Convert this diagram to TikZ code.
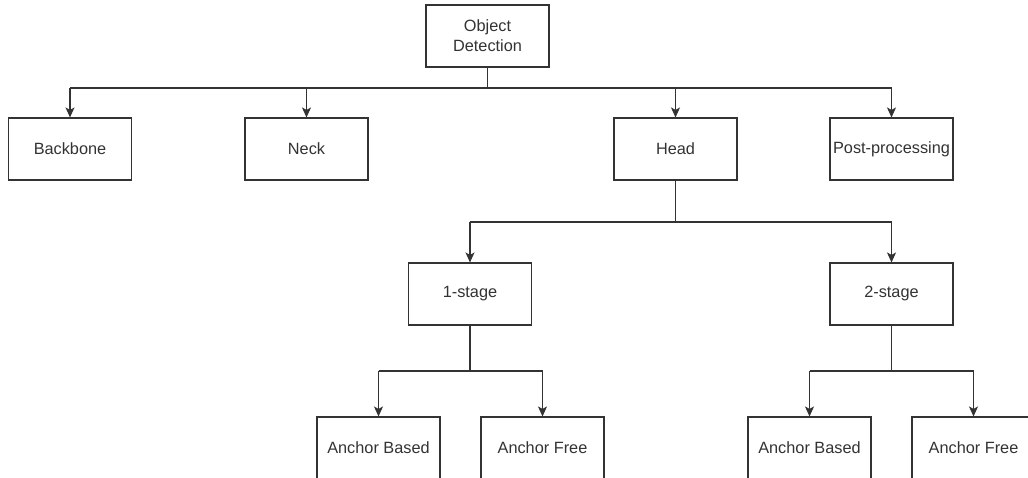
\documentclass[tikz,border=0pt]{standalone}
\usepackage{fontspec}
\setmainfont{Liberation Sans}
\usetikzlibrary{arrows.meta}

\definecolor{inkgray}{HTML}{333333}

\tikzset{
  box/.style={draw=inkgray, line width=1.1pt, fill=white, minimum width=123pt,
    minimum height=62pt, inner sep=0pt, text=inkgray, align=center,
    font=\fontsize{16.3}{20}\selectfont},
  link/.style={draw=inkgray, line width=1.1pt,
    -{Stealth[length=10pt,width=9pt,inset=2.5pt]}},
  stem/.style={draw=inkgray, line width=1.1pt}
}

\begin{document}
\begin{tikzpicture}[x=1pt,y=-1pt]
  \useasboundingbox (0,0) rectangle (1028,478);
  \fill[white] (0,0) rectangle (1028,478);
  \clip (0,0) rectangle (1028,478);

  % root
  \node[box] (od) at (487.5,36) {Object\\Detection};

  % first level
  \node[box] (backbone) at (70,149)    {Backbone};
  \node[box] (neck)     at (306.5,149) {Neck};
  \node[box] (head)     at (675.5,149) {Head};
  \node[box] (post)     at (891.5,149) {Post-processing};

  % stages
  \node[box] (one) at (470,294)   {1-stage};
  \node[box] (two) at (891.5,294) {2-stage};

  % anchor variants
  \node[box] (ab1) at (378.5,448) {Anchor Based};
  \node[box] (af1) at (542.5,448) {Anchor Free};
  \node[box] (ab2) at (809.5,448) {Anchor Based};
  \node[box] (af2) at (973.5,448) {Anchor Free};

  % bus junctions
  \coordinate (j0) at (487.5,88);
  \coordinate (j1) at (675.5,222);
  \coordinate (j2) at (470,371);
  \coordinate (j3) at (891.5,371);

  % root to first level
  \draw[stem] (od.south) -- (j0);
  \draw[stem] (backbone.north |- j0) -- (post.north |- j0);
  \foreach \n in {backbone,neck,head,post}
    \draw[link] (\n.north |- j0) -- (\n.north);

  % head to stages
  \draw[stem] (head.south) -- (j1);
  \draw[stem] (one.north |- j1) -- (two.north |- j1);
  \foreach \n in {one,two}
    \draw[link] (\n.north |- j1) -- (\n.north);

  % 1-stage to its variants
  \draw[stem] (one.south) -- (j2);
  \draw[stem] (ab1.north |- j2) -- (af1.north |- j2);
  \foreach \n in {ab1,af1}
    \draw[link] (\n.north |- j2) -- (\n.north);

  % 2-stage to its variants
  \draw[stem] (two.south) -- (j3);
  \draw[stem] (ab2.north |- j3) -- (af2.north |- j3);
  \foreach \n in {ab2,af2}
    \draw[link] (\n.north |- j3) -- (\n.north);
\end{tikzpicture}
\end{document}
